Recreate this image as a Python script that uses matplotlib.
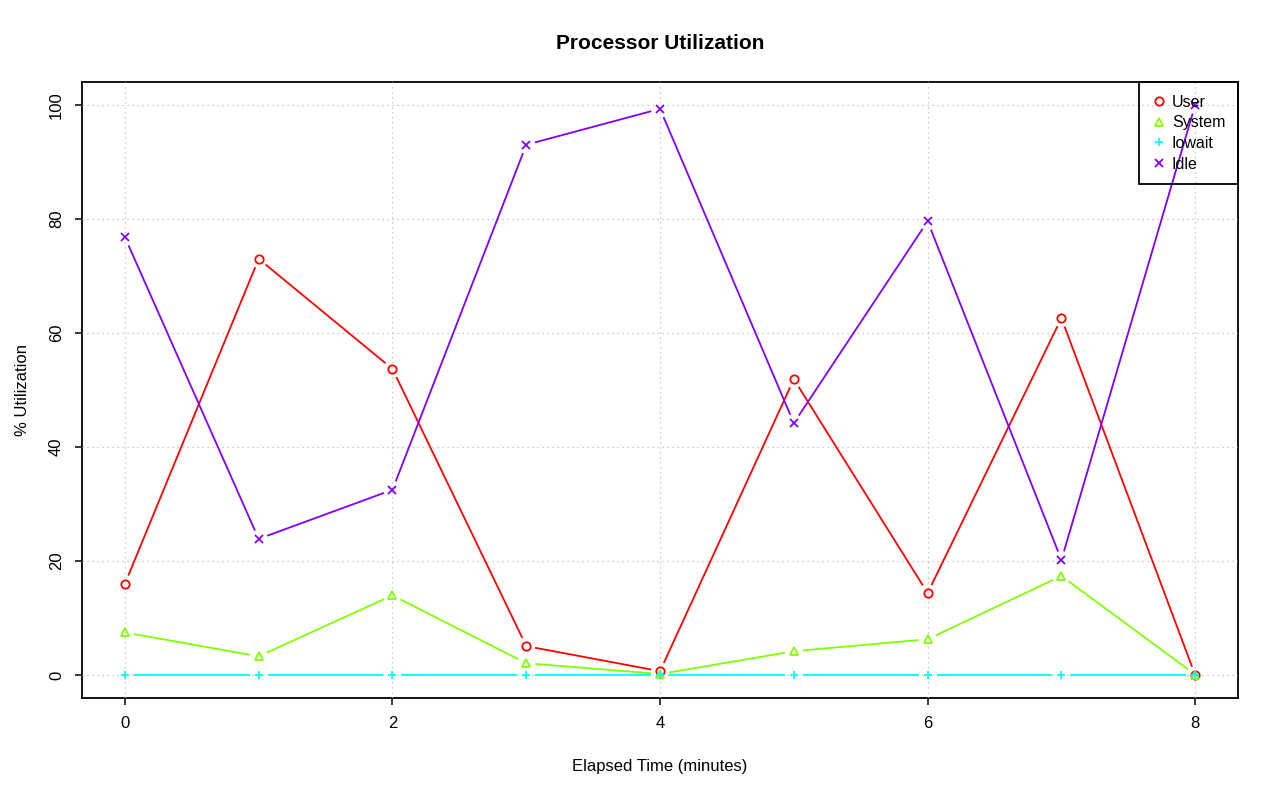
import numpy as np
import matplotlib
matplotlib.use("Agg")
import matplotlib.pyplot as plt

plt.rcParams["font.family"] = ["Liberation Sans", "DejaVu Sans"]

minutes = [0, 1, 2, 3, 4, 5, 6, 7, 8]
user = [16.0, 73.0, 53.7, 5.1, 0.7, 51.9, 14.4, 62.6, 0.0]
system = [7.5, 3.3, 14.0, 2.1, 0.2, 4.2, 6.3, 17.4, 0.1]
iowait = [0.0, 0.0, 0.0, 0.0, 0.0, 0.0, 0.0, 0.0, 0.0]
idle = [76.8, 23.9, 32.5, 93.0, 99.3, 44.2, 79.6, 20.2, 100.0]

series = [
    ("User", user, "#FF0000", "o"),
    ("System", system, "#80FF00", "^"),
    ("Iowait", iowait, "#00FFFF", "+"),
    ("Idle", idle, "#8000FF", "x"),
]


def gapped_line(ax, xs, ys, color, gap_px=9):
    # R's type="b": line segments stop short of each point
    trans = ax.transData
    pts = trans.transform(np.column_stack([xs, ys]))
    inv = trans.inverted()
    for (x0, y0), (x1, y1) in zip(pts[:-1], pts[1:]):
        dx, dy = x1 - x0, y1 - y0
        d = np.hypot(dx, dy)
        if d <= 2 * gap_px:
            continue
        ux, uy = dx / d, dy / d
        a = inv.transform((x0 + ux * gap_px, y0 + uy * gap_px))
        b = inv.transform((x1 - ux * gap_px, y1 - uy * gap_px))
        ax.plot([a[0], b[0]], [a[1], b[1]], color=color, linewidth=1.3,
                solid_capstyle="butt", zorder=3)


fig = plt.figure(figsize=(12.8, 8.01), dpi=100)
ax = fig.add_axes([0.0641, 0.1286, 0.9031, 0.769])
ax.set_xlim(-0.32, 8.32)
ax.set_ylim(-4, 104)

ax.set_xticks([0, 2, 4, 6, 8])
ax.set_yticks([0, 20, 40, 60, 80, 100])
# grid drawn over the lines, as R's grid() after plotting
ax.set_axisbelow(False)
ax.grid(True, linestyle=(0, (1, 3)), color="#bbbbbb", linewidth=0.9, zorder=5)

for label, vals, color, marker in series:
    ax.plot(minutes, vals, linestyle="none", marker=marker, markersize=6,
            markerfacecolor="none", markeredgecolor=color, markeredgewidth=1.3,
            label=label, zorder=4)

for label, vals, color, marker in series:
    gapped_line(ax, minutes, vals, color)

for s in ax.spines.values():
    s.set_linewidth(1.3)
ax.tick_params(direction="out", length=5, width=1.1, labelsize=12, pad=8)
for t in ax.get_yticklabels():
    t.set_rotation(90)
    t.set_va("center")

ax.set_title("Processor Utilization", fontsize=15, fontweight="bold", pad=24)
ax.set_xlabel("Elapsed Time (minutes)", fontsize=12, labelpad=20)
ax.set_ylabel("% Utilization", fontsize=12, labelpad=14)

leg = ax.legend(loc="upper right", borderaxespad=0, fancybox=False,
                edgecolor="black", facecolor="none", framealpha=1,
                fontsize=11.5, handletextpad=0.35, handlelength=0.9,
                labelspacing=0.35, borderpad=0.8)
leg.get_frame().set_linewidth(1.3)

fig.savefig("out.png", dpi=100)
